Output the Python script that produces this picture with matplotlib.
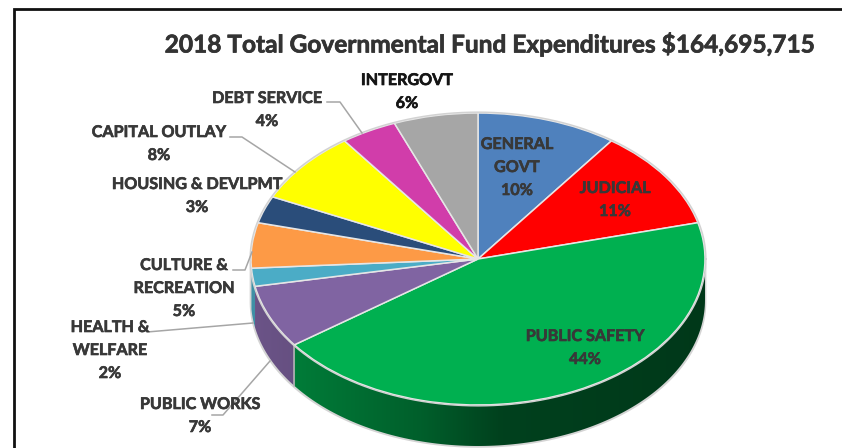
import numpy as np
import matplotlib
matplotlib.use("Agg")
import matplotlib.pyplot as plt
import matplotlib.patheffects as pe
from matplotlib.lines import Line2D
from matplotlib.patches import Polygon

plt.rcParams["font.family"] = ["Lato", "DejaVu Sans"]

W, H = 842, 448

# Expenditure shares, clockwise from twelve o'clock
categories = ["GENERAL\nGOVT", "JUDICIAL", "PUBLIC SAFETY", "PUBLIC WORKS",
              "HEALTH &\nWELFARE", "CULTURE &\nRECREATION", "HOUSING & DEVLPMT",
              "CAPITAL OUTLAY", "DEBT SERVICE", "INTERGOVT"]
shares = [10, 11, 44, 7, 2, 5, 3, 8, 4, 6]
colors = ["#4f81bd", "#ff0000", "#00b050", "#8064a2", "#4bacc6",
          "#fd9a46", "#2a4d7a", "#ffff00", "#d13daa", "#a6a6a6"]
title = "2018 Total Governmental Fund Expenditures $164,695,715"

# Label anchor (centre of the first line) in pixels
label_pos = [(517, 145), (615, 189), (585, 337), (200, 405), (110, 328),
             (184, 266), (197, 185), (159, 133), (267, 99), (407, 81)]
label_color = ["#383838"] * 9 + ["#151515"]

# Leader lines in pixels
leaders = [
    [(327, 102), (340, 102), (362, 133)],
    [(230, 137), (242, 137), (295, 172)],
    [(233, 270), (245, 270), (252, 252)],
    [(147, 332), (253, 323)],
    [(212, 415), (223, 415), (270, 361)],
]

CX, CY, RX, RY, DEPTH = 478, 259, 227, 146, 41
depth = DEPTH / RY

fig = plt.figure(figsize=(W / 100, H / 100), dpi=100, facecolor="white")
ax = fig.add_axes([0, 0, 1, 1])


def px(x, y):
    return x / W, 1 - y / H


def shade(x):
    # Side wall darkens from the left rim towards the right
    return np.interp(x, [-1.0, -0.82, -0.80, -0.25, 0.10, 1.0],
                     [0.84, 0.80, 0.70, 0.54, 0.37, 0.32])


edges = np.concatenate([[0], np.cumsum(shares)]) / np.sum(shares) * 360

# Pale halo behind the side wall
halo_t = np.radians(np.linspace(90, 270, 181))
ax.fill(np.concatenate([np.sin(halo_t) * 1.006, np.sin(halo_t[::-1]) * 1.006]),
        np.concatenate([np.cos(halo_t), np.cos(halo_t[::-1]) - depth - 0.012]),
        facecolor="#d4d4d4", edgecolor="none", zorder=1)

# Side wall: the front half of each slice's rim, filled with a clipped gradient
for a0, a1, col in zip(edges[:-1], edges[1:], colors):
    lo, hi = max(a0, 90), min(a1, 270)
    if hi - lo < 4:
        continue
    base = np.array(matplotlib.colors.to_rgb(col))
    t = np.radians(np.linspace(lo, hi, 120))
    poly_x = np.concatenate([np.sin(t), np.sin(t[::-1])])
    poly_y = np.concatenate([np.cos(t), np.cos(t[::-1]) - depth])
    clip = Polygon(np.column_stack([poly_x, poly_y]), closed=True,
                   facecolor="none", edgecolor="none", transform=ax.transData)
    ax.add_patch(clip)
    gx = np.linspace(poly_x.min(), poly_x.max(), 400)
    grad = np.clip(base[None, None, :] * shade(gx)[None, :, None], 0, 1)
    im = ax.imshow(grad, extent=(gx[0], gx[-1], poly_y.min(), poly_y.max()),
                   aspect="auto", origin="lower", interpolation="bilinear", zorder=2)
    im.set_clip_path(clip)

# Seam where the safety and public works walls meet
seam = np.radians(edges[3])
ax.plot([np.sin(seam)] * 2, [np.cos(seam), np.cos(seam) - depth],
        color="#b9b9b9", lw=1.1, zorder=3)

# Top face
wedges, _ = ax.pie(shares, colors=colors, startangle=90, counterclock=False, radius=1.0,
                   wedgeprops=dict(edgecolor="#e6e6e6", linewidth=1.1))
for w in wedges:
    w.set_zorder(4)
rim_t = np.linspace(0, 2 * np.pi, 361)
ax.plot(np.cos(rim_t) * 1.004, np.sin(rim_t) * 1.006, color="#d2d2d2", lw=1.0, zorder=5)

ax.set_aspect("auto")
ax.set_xlim(-CX / RX, (W - CX) / RX)
ax.set_ylim((CY - H) / RY, CY / RY)
ax.axis("off")

# Leader lines
for pts in leaders:
    xs, ys = zip(*[px(*p) for p in pts])
    fig.add_artist(Line2D(xs, ys, color="#a6a6a6", lw=1.1, transform=fig.transFigure, zorder=6))

# Data labels, one text per line so the line spacing stays fixed
for name, share, (x, y), tc in zip(categories, shares, label_pos, label_color):
    lines = name.split("\n") + [f"{share}%"]
    for i, line in enumerate(lines):
        t = fig.text(*px(x, y + i * 23), line, ha="center", va="center", fontsize=11.6,
                     fontweight="bold", color=tc, zorder=7)
        t.set_path_effects([pe.withStroke(linewidth=0.45, foreground=tc)])

tt = fig.text(*px(489, 44), title, ha="center", va="center", fontsize=17.6,
              fontweight="bold", color="#333333", zorder=7)
tt.set_path_effects([pe.withStroke(linewidth=0.5, foreground="#333333")])

# Chart frame, open on the right and bottom
fig.add_artist(Line2D([14 / W, 14 / W, 1], [0, 1 - 9.5 / H, 1 - 9.5 / H], color="#111111",
                      lw=2.0, transform=fig.transFigure, solid_joinstyle="miter"))

fig.savefig("out.png", dpi=100)
